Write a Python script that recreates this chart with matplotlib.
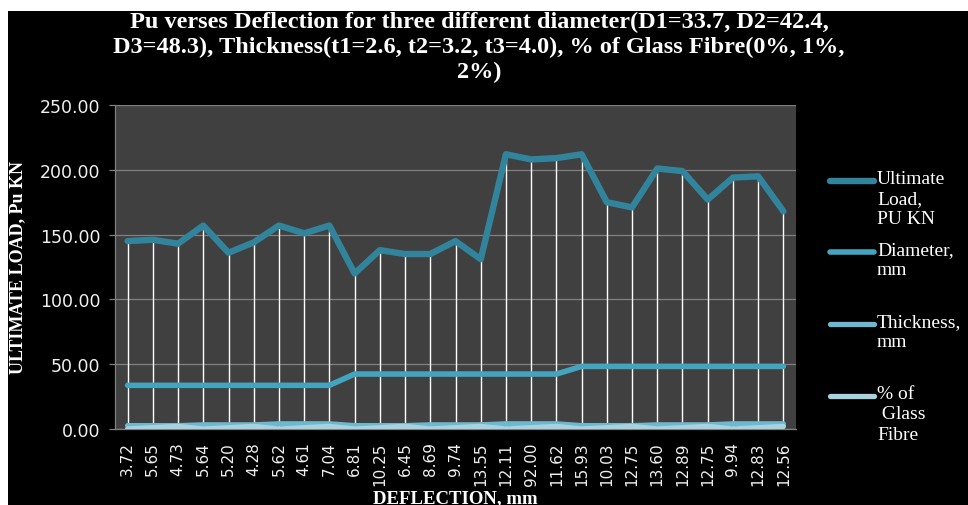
import matplotlib
matplotlib.use('Agg')
import numpy as np
import matplotlib.pyplot as plt
from matplotlib.lines import Line2D
from matplotlib.patches import Rectangle

# deflection readings (category labels) and measured series
deflection = ["3.72", "5.65", "4.73", "5.64", "5.20", "4.28", "5.62", "4.61", "7.04",
              "6.81", "10.25", "6.45", "8.69", "9.74", "13.55", "12.11", "92.00", "11.62",
              "15.93", "10.03", "12.75", "13.60", "12.89", "12.75", "9.94", "12.83", "12.56"]
ultimate_load = [145, 146, 143, 157, 136, 144, 157, 151, 157,
                 120, 138, 135, 135, 145, 131, 212, 208, 209,
                 212, 175, 171, 201, 199, 177, 194, 195, 168]
diameter = [33.7] * 9 + [42.4] * 9 + [48.3] * 9
thickness = ([2.6] * 3 + [3.2] * 3 + [4.0] * 3) * 3
glass_fibre = [0, 1, 2] * 9

series_names = ["Ultimate\nLoad,\nPU KN", "Diameter,\nmm", "Thickness,\nmm", "% of\n Glass\nFibre"]
series_colors = ["#31849B", "#43A4C0", "#6DB8D1", "#A9D2DF"]

W, H = 968, 506
fig = plt.figure(figsize=(W / 100, H / 100), dpi=100)
fig.patch.set_facecolor("white")
fig.add_artist(Rectangle((8 / W, 0), 1, 1 - 12 / H, transform=fig.transFigure,
                         facecolor="black", edgecolor="none", zorder=0))

ax = fig.add_axes([115 / W, 1 - 430 / H, (796 - 115) / W, (430 - 106) / H])
ax.set_facecolor("#404040")

x = np.arange(len(deflection))
ax.vlines(x, 0, ultimate_load, colors="white", linewidth=1.0, zorder=2)

data = [ultimate_load, diameter, thickness, glass_fibre]
widths = [4.6, 4.0, 3.8, 3.8]
for vals, col, lw in zip(data, series_colors, widths):
    ax.plot(x, vals, color=col, linewidth=lw, solid_capstyle="round",
            solid_joinstyle="round", zorder=3)

ax.set_xlim(-0.5, len(deflection) - 0.5)
ax.set_ylim(0, 250)
ax.set_yticks(np.arange(0, 251, 50))
ax.set_yticklabels([f"{v:.2f}" for v in np.arange(0, 251, 50)])
ax.set_xticks(x)
ax.set_xticklabels(deflection, rotation=90)
ax.grid(axis="y", color="#808080", linewidth=0.9, zorder=1)
ax.set_axisbelow(True)

for side in ["top", "right"]:
    ax.spines[side].set_visible(False)
for side in ["left", "bottom"]:
    ax.spines[side].set_color("#808080")
    ax.spines[side].set_linewidth(0.9)

ax.tick_params(axis="y", colors="#808080", labelcolor="#f0f0f0", labelsize=12.5,
               length=4.5, width=0.9, pad=6)
ax.tick_params(axis="x", length=0, labelcolor="#f0f0f0", labelsize=11, pad=9)

serif = ["Liberation Serif", "DejaVu Serif"]
fig.text(18 / W, 1 - 268 / H, "ULTIMATE LOAD, Pu KN", rotation=90, color="white",
         family=serif, fontweight="bold", fontsize=13, ha="center", va="center")
fig.text(455 / W, 3 / H, "DEFLECTION, mm", color="white", family=serif,
         fontweight="bold", fontsize=13.5, ha="center", va="baseline")

title_lines = ["Pu verses Deflection for three different diameter(D1=33.7, D2=42.4,",
               "D3=48.3), Thickness(t1=2.6, t2=3.2, t3=4.0), % of Glass Fibre(0%, 1%,",
               "2%)"]
for i, line in enumerate(title_lines):
    fig.text(479 / W, 1 - (28 + 25 * i) / H, line, color="white", family=serif,
             fontweight="bold", fontsize=17.5, ha="center", va="baseline")

# legend drawn to the right of the plot area
legend_y = [182, 253, 325, 397]
for name, col, lw, yy in zip(series_names, series_colors, widths, legend_y):
    fig.add_artist(Line2D([830 / W, 874 / W], [1 - yy / H, 1 - yy / H], color=col,
                          linewidth=lw, solid_capstyle="round", transform=fig.transFigure))
    fig.text(877 / W, 1 - (yy - 11) / H, name, color="white", family=serif,
             fontsize=14, ha="left", va="top", linespacing=1.25)

fig.savefig("out.png", dpi=100, facecolor=fig.get_facecolor())
